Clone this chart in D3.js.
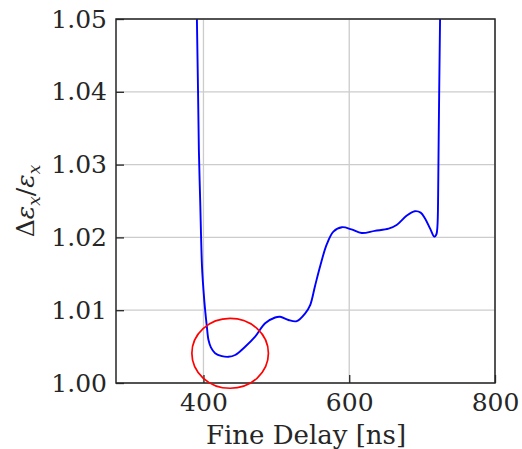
<html>
<head>
<meta charset="utf-8">
<style>
  body { margin: 0; background: #fff; }
  svg { font-family: "DejaVu Serif", serif; }
</style>
<script src="https://d3js.org/d3.v7.min.js"></script>
</head>
<body>
<svg id="chart" width="522" height="449"></svg>
</body>
<script>
  // values
  const delay = [390, 391, 393.7, 395.5, 398, 400, 402.3, 404.7, 406.9, 410.2, 416, 425.2, 434.3, 443.5, 457.2, 470.9, 484.6, 498.3, 505.2, 516.6, 528, 539.6, 546.4, 553, 560, 569, 578.3, 590, 603, 617, 635, 654, 665, 679, 690, 698, 704, 711, 716.8, 719.5, 721, 722, 722.8, 724.6, 725]
  const ratio = [1.052, 1.050, 1.032, 1.0251, 1.016, 1.0128, 1.0100, 1.0077, 1.0059, 1.0049, 1.0041, 1.0037, 1.0036, 1.00385, 1.00498, 1.00636, 1.0082, 1.0090, 1.0091, 1.00865, 1.0085, 1.00957, 1.0107, 1.0133, 1.0160, 1.0190, 1.0208, 1.0214, 1.0211, 1.0206, 1.0209, 1.0212, 1.0217, 1.0230, 1.0236, 1.0234, 1.0226, 1.0212, 1.0201, 1.0204, 1.0215, 1.026, 1.0343, 1.0498, 1.052]
  const xTicks = [400, 600, 800]
  const yTicks = [1.00, 1.01, 1.02, 1.03, 1.04, 1.05]
  const mark = {x: 436.6, y: 1.00408, rx: 52.5, ry: 0.0048}

  let margin = {left: 116, right: 27, top: 19, bottom: 66}
  let svg = d3.select('#chart')
  let width = 522 - margin.left - margin.right
  let height = 449 - margin.top - margin.bottom
  let ink = '#262626'

  let x = d3.scaleLinear().domain([280, 800]).range([0, width])
  let y = d3.scaleLinear().domain([1.0, 1.05]).range([height, 0])

  let g = svg.append('g').attr('transform', `translate(${margin.left},${margin.top})`)

  svg.append('defs').append('clipPath').attr('id', 'clip')
    .append('rect').attr('width', width).attr('height', height)

  // grid
  g.append('g').selectAll('line').data(xTicks).enter().append('line')
    .attr('x1', d => x(d)).attr('x2', d => x(d))
    .attr('y1', 0).attr('y2', height)
    .attr('stroke', '#cccccc').attr('stroke-width', 1.3)
  g.append('g').selectAll('line').data(yTicks).enter().append('line')
    .attr('y1', d => y(d)).attr('y2', d => y(d))
    .attr('x1', 0).attr('x2', width)
    .attr('stroke', '#cccccc').attr('stroke-width', 1.3)

  // the curve
  let line = d3.line()
    .x((d, i) => x(delay[i]))
    .y(d => y(d))
    .curve(d3.curveCatmullRom.alpha(0.5))
  g.append('path').datum(ratio)
    .attr('d', line)
    .attr('clip-path', 'url(#clip)')
    .attr('fill', 'none')
    .attr('stroke', '#0000ff')
    .attr('stroke-width', 1.9)

  // axes (ticks inward)
  let xAxis = g.append('g').attr('transform', `translate(0,${height})`)
    .call(d3.axisBottom(x).tickValues(xTicks).tickSizeInner(-8).tickSizeOuter(0).tickPadding(10))
  let yAxis = g.append('g')
    .call(d3.axisLeft(y).tickValues(yTicks).tickFormat(d3.format('.2f')).tickSizeInner(-8).tickSizeOuter(0).tickPadding(9))
  for (let a of [xAxis, yAxis]) {
    a.select('.domain').remove()
    a.selectAll('line').attr('stroke', ink).attr('stroke-width', 1.3)
    a.selectAll('text').attr('fill', ink).style('font-size', '25px').style('font-family', '"DejaVu Serif", serif')
  }

  // frame
  g.append('rect').attr('width', width).attr('height', height)
    .attr('fill', 'none').attr('stroke', ink).attr('stroke-width', 1.5)

  // red ellipse
  g.append('ellipse')
    .attr('cx', x(mark.x)).attr('cy', y(mark.y))
    .attr('rx', x(mark.x + mark.rx) - x(mark.x))
    .attr('ry', y(mark.y) - y(mark.y + mark.ry))
    .attr('fill', 'none').attr('stroke', '#ff0000').attr('stroke-width', 1.7)

  // labels
  svg.append('text')
    .attr('x', margin.left + width / 2 + 0.5).attr('y', 444)
    .attr('text-anchor', 'middle').attr('fill', ink)
    .style('font-size', '26px')
    .text('Fine Delay [ns]')

  let yl = svg.append('text')
    .attr('transform', `translate(34,${margin.top + height / 2}) rotate(-90)`)
    .attr('text-anchor', 'middle').attr('fill', ink)
    .style('font-size', '25px')
  yl.append('tspan').text('\u0394')
  yl.append('tspan').style('font-style', 'italic').text('\u03b5')
  yl.append('tspan').attr('dy', 6).style('font-size', '17px').style('font-style', 'italic').text('x')
  yl.append('tspan').attr('dy', -6).text('/')
  yl.append('tspan').style('font-style', 'italic').text('\u03b5')
  yl.append('tspan').attr('dy', 6).style('font-size', '17px').style('font-style', 'italic').text('x')
</script>
</html>
